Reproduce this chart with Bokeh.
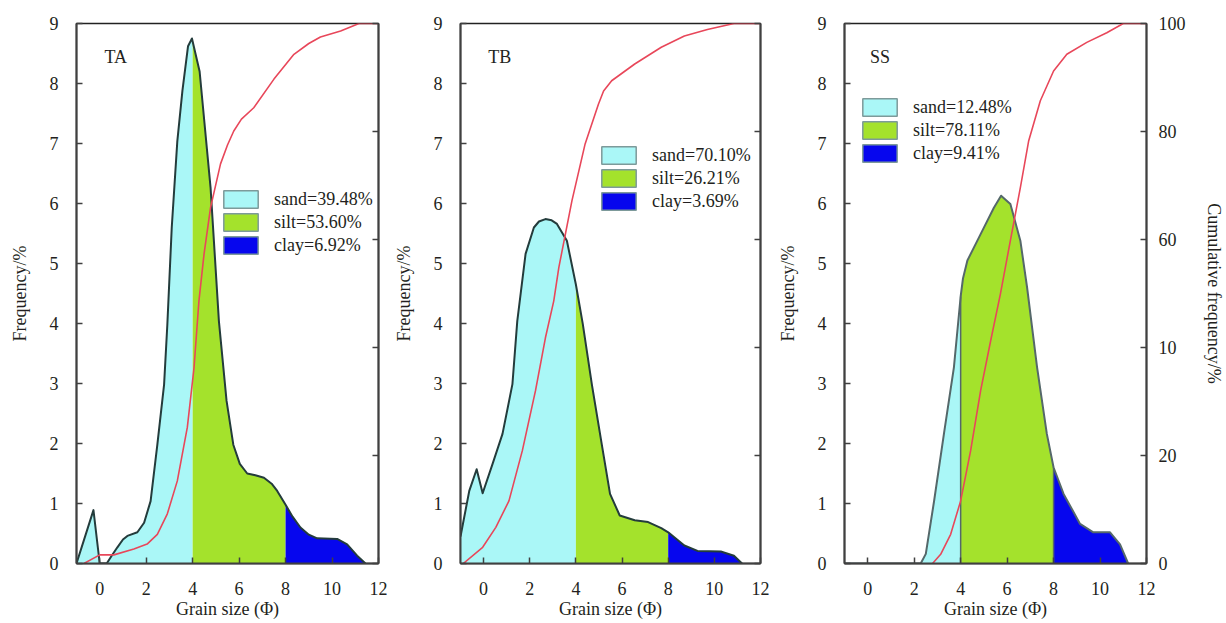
from bokeh.plotting import figure
from bokeh.models import Range1d, LinearAxis, FixedTicker, Legend, LegendItem, Label
from bokeh.layouts import row
from bokeh.embed import file_html
from bokeh.resources import INLINE

FONT = "Liberation Serif"
TXT = "#231f20"
NAN = float("nan")

# ---------------- data ----------------
x_ticks = [0, 2, 4, 6, 8, 10, 12]
y_ticks = [0, 1, 2, 3, 4, 5, 6, 7, 8, 9]
cum_ticks = [0, 20, 40, 60, 80, 100]
cum_tick_labels = {0: "0", 20: "20", 40: "10", 60: "60", 80: "80", 100: "100"}

sand_limit = 4
silt_limit = 8

# TA
ta_x = [-1.0, -0.27, 0.0, 0.3, 0.5, 0.76, 1.0, 1.19, 1.62, 1.91, 2.19, 2.48, 2.77, 2.91, 3.1,
        3.34, 3.56, 3.8, 3.97, 4.0, 4.3, 4.77, 5.13, 5.46, 5.75, 6.03, 6.35, 6.7, 7.07, 7.4, 7.64, 8.0,
        8.3, 8.64, 9.0, 9.36, 10.22, 10.65, 11.08, 11.44]
ta_f = [0.0, 0.89, 0.0, 0.0, 0.12, 0.27, 0.4, 0.46, 0.52, 0.68, 1.04, 1.98, 2.98, 3.98, 5.6,
        7.04, 7.88, 8.62, 8.75, 8.7, 8.2, 6.27, 4.04, 2.71, 1.98, 1.66, 1.5, 1.47, 1.43, 1.33, 1.21, 0.98,
        0.78, 0.6, 0.48, 0.42, 0.41, 0.32, 0.13, 0.0]
ta_cx = [-0.68, 0.0, 0.61, 1.47, 2.04, 2.48, 2.91, 3.34, 3.77, 4.06, 4.27, 4.49, 4.77, 5.2,
         5.5, 5.77, 6.1, 6.63, 7.5, 8.36, 9.0, 9.5, 10.37, 11.16, 12.0]
ta_c = [0.0, 1.6, 1.6, 2.7, 3.6, 5.4, 9.2, 15.3, 25.2, 36.3, 48.6, 57.3, 65.9, 74.0,
        77.5, 80.1, 82.3, 84.4, 89.7, 94.3, 96.3, 97.5, 98.6, 100.0, 100.0]
ta_labels = ["sand=39.48%", "silt=53.60%", "clay=6.92%"]

# TB
tb_x = [-1.0, -0.62, -0.3, -0.04, 0.39, 0.82, 1.25, 1.46, 1.82, 2.18, 2.4, 2.68, 2.95, 3.18, 3.61, 4.0,
        4.3, 4.69, 5.12, 5.48, 5.9, 6.55, 7.13, 7.7, 8.0, 8.7, 9.27, 10.28, 10.85, 11.2]
tb_f = [0.45, 1.21, 1.57, 1.17, 1.66, 2.16, 2.99, 4.04, 5.16, 5.6, 5.7, 5.74, 5.72, 5.66, 5.38, 4.65,
        3.99, 2.99, 1.99, 1.16, 0.8, 0.72, 0.69, 0.59, 0.52, 0.3, 0.21, 0.2, 0.13, 0.0]
tb_cx = [-0.88, -0.04, 0.53, 1.1, 1.68, 2.25, 2.68, 3.04, 3.26, 3.83, 4.4, 4.98, 5.2, 5.55, 6.55,
         7.7, 8.7, 9.7, 10.85, 12.0]
tb_c = [0.0, 3.0, 6.7, 11.6, 20.9, 32.0, 41.8, 48.6, 54.8, 67.2, 77.7, 85.1, 87.5, 89.4, 92.5,
        95.6, 97.7, 98.9, 100.0, 100.0]
tb_labels = ["sand=70.10%", "silt=26.21%", "clay=3.69%"]

# SS
ss_x = [-1.0, 2.28, 2.5, 2.86, 3.28, 3.71, 4.0, 4.1, 4.29, 4.86, 5.43, 5.74, 6.14, 6.57, 6.86,
        7.29, 7.71, 8.0, 8.43, 9.14, 9.71, 10.43, 10.86, 11.21]
ss_f = [0.0, 0.0, 0.16, 1.05, 2.16, 3.27, 4.45, 4.75, 5.05, 5.49, 5.93, 6.13, 5.99, 5.38, 4.6,
        3.27, 2.16, 1.6, 1.16, 0.66, 0.52, 0.52, 0.32, 0.0]
ss_cx = [2.79, 3.14, 3.57, 4.0, 4.43, 4.86, 5.29, 5.71, 6.14, 6.57, 6.93, 7.43, 8.0, 8.57,
         9.43, 10.29, 11.0, 12.0]
ss_c = [0.0, 1.7, 5.4, 11.6, 20.9, 32.0, 41.2, 49.9, 59.8, 69.6, 78.3, 85.7, 91.2, 94.3,
        96.5, 98.3, 100.0, 100.0]
ss_labels = ["sand=12.48%", "silt=78.11%", "clay=9.41%"]

SAND = "#aaf7f7"
SILT = "#a4e22c"
CLAY = "#0606ee"
RED = "#e8475a"


def style_axis(ax):
    ax.axis_line_color = "#404040"
    ax.axis_line_width = 2
    ax.major_tick_in = 6
    ax.major_tick_out = 0
    ax.minor_tick_line_color = None
    ax.major_tick_line_color = "#404040"
    ax.major_tick_line_width = 1.5
    ax.major_label_text_font = FONT
    ax.major_label_text_font_size = "18px"
    ax.major_label_text_color = TXT
    ax.axis_label_text_font = FONT
    ax.axis_label_text_font_size = "18px"
    ax.axis_label_text_font_style = "normal"
    ax.axis_label_text_color = TXT


def make_panel(name, fx, fy, cx, cy, labels, legend_loc, width, bl, br,
               right_labels, outline_col, separators, label_x):
    p = figure(width=width, height=623, x_range=Range1d(-1, 12), y_range=Range1d(0, 9),
               output_backend="svg", toolbar_location=None,
               min_border_left=bl, min_border_right=br, min_border_top=23, min_border_bottom=60)
    p.xgrid.visible = False
    p.ygrid.visible = False
    p.outline_line_color = "#222222"
    p.outline_line_width = 1.5
    p.background_fill_color = "white"

    p.extra_y_ranges = {"cum": Range1d(0, 100)}

    # fills
    sx = [x for x in fx if x <= sand_limit]
    sy = [y for x, y in zip(fx, fy) if x <= sand_limit]
    mx = [x for x in fx if sand_limit <= x <= silt_limit]
    my = [y for x, y in zip(fx, fy) if sand_limit <= x <= silt_limit]
    cxs = [x for x in fx if x >= silt_limit]
    cys = [y for x, y in zip(fx, fy) if x >= silt_limit]
    p.varea(x=sx, y1=0, y2=sy, fill_color=SAND)
    p.varea(x=mx, y1=0, y2=my, fill_color=SILT)
    p.varea(x=cxs, y1=0, y2=cys, fill_color=CLAY)
    if separators:
        for lim in (sand_limit, silt_limit):
            top = fy[fx.index(lim)]
            p.segment(x0=[lim], y0=[0], x1=[lim], y1=[top], line_color=outline_col, line_width=1.5)
    p.line(fx, fy, line_color=outline_col, line_width=2, line_join="round")
    p.line(cx, cy, y_range_name="cum", line_color=RED, line_width=1.6, line_join="round")

    # legend (placeholder glyphs only used for the legend swatches)
    items = []
    for lab, col in zip(labels, (SAND, SILT, CLAY)):
        r = p.rect(x=[NAN], y=[NAN], width=1, height=1, fill_color=col,
                   line_color="#7d9a9a", line_width=1.5)
        items.append(LegendItem(label=lab, renderers=[r]))
    leg = Legend(items=items, location=legend_loc, glyph_width=43, glyph_height=22, spacing=1,
                 padding=0, margin=0, label_standoff=12, label_text_font=FONT,
                 label_text_font_size="18px", label_text_color=TXT, label_height=22,
                 background_fill_alpha=0, border_line_alpha=0)
    p.add_layout(leg)

    p.add_layout(Label(x=label_x, y=8.45, text=name, text_font=FONT, text_font_size="18px",
                       text_color=TXT, text_baseline="middle", text_align="left"))

    for ax in (p.xaxis[0], p.yaxis[0]):
        style_axis(ax)
    p.xaxis[0].ticker = FixedTicker(ticks=x_ticks)
    p.yaxis[0].ticker = FixedTicker(ticks=y_ticks)
    p.xaxis[0].axis_label = "Grain size (Φ)"
    p.yaxis[0].axis_label = "Frequency/%"
    p.xaxis[0].major_label_standoff = 18
    p.xaxis[0].axis_label_standoff = 1
    p.yaxis[0].major_label_standoff = 18
    p.yaxis[0].axis_label_standoff = 17

    rax = LinearAxis(y_range_name="cum", ticker=FixedTicker(ticks=cum_ticks))
    style_axis(rax)
    if right_labels:
        rax.major_label_overrides = cum_tick_labels
        rax.major_label_standoff = 12
        rax.axis_label = "Cumulative frequency/%"
        rax.axis_label_standoff = 15
    else:
        rax.major_label_text_font_size = "0px"
        rax.major_label_text_color = None
        rax.major_label_standoff = 0
    p.add_layout(rax, "right")
    return p


p1 = make_panel("TA", ta_x, ta_f, ta_cx, ta_c, ta_labels, (143, 307), 390, 76, 12,
                False, "#243c3c", False, 0.2)
p2 = make_panel("TB", tb_x, tb_f, tb_cx, tb_c, tb_labels, (137, 351), 382, 68, 12,
                False, "#243c3c", False, 0.2)
p3 = make_panel("SS", ss_x, ss_f, ss_cx, ss_c, ss_labels, (14, 399), 454, 72, 80,
                True, "#55686a", True, 0.1)

layout = row(p1, p2, p3)
open("out.html", "w").write(file_html(layout, INLINE))
